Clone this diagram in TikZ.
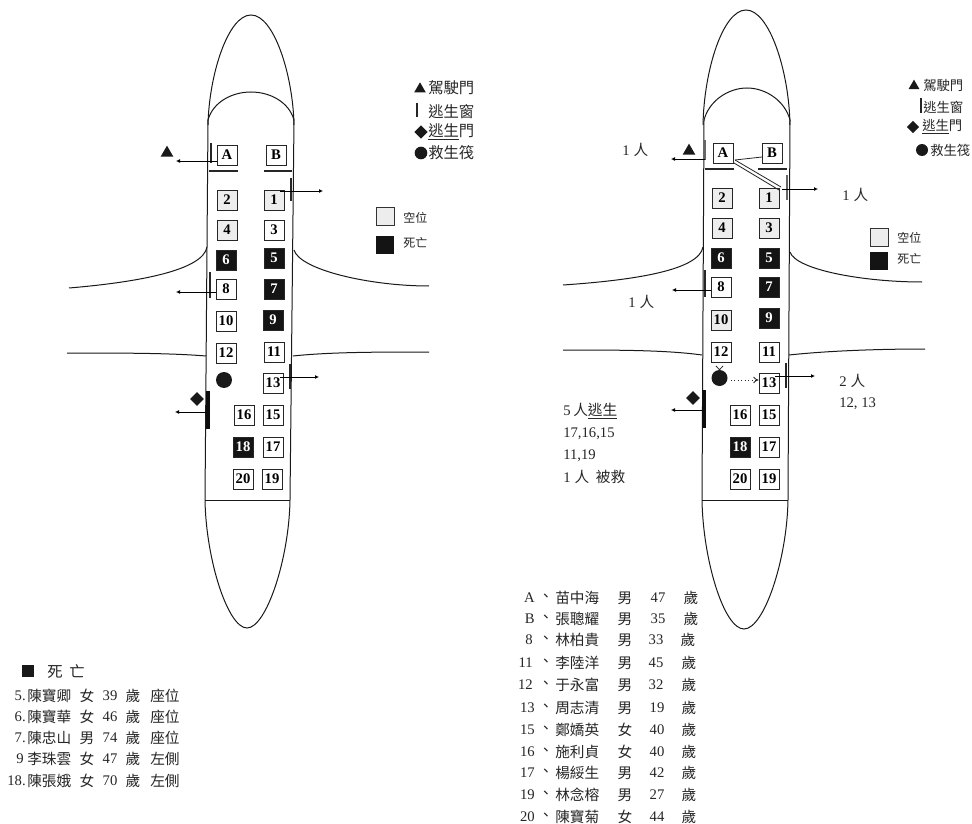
\documentclass[tikz,border=0pt]{standalone}
\usepackage{fontspec}
\setmainfont{Liberation Serif}
\newfontfamily\cjk{Noto Sans CJK TC}
\usetikzlibrary{arrows.meta,shapes.geometric}
\tikzset{
  x=0.75pt,y=-0.75pt,
  hull/.style={line width=0.75pt,black!90},
  seatbase/.style={draw=black!85,line width=0.7pt,minimum size=15pt,inner sep=0pt,font=\bfseries\fontsize{11}{11}\selectfont,anchor=center},
  seatw/.style={seatbase,fill=white},
  seatg/.style={seatbase,fill=black!7},
  seatk/.style={seatbase,fill=black!92,text=white},
  raft/.style={circle,fill=black!90,minimum size=12pt,inner sep=0pt},
  tri/.style={regular polygon,regular polygon sides=3,fill=black!90,minimum size=11pt,inner sep=0pt},
  dia/.style={diamond,fill=black!90,minimum size=10.5pt,inner sep=0pt},
  keybox/.style={minimum size=13.5pt,inner sep=0pt},
  exitarrow/.style={line width=0.7pt,-{Latex[length=3pt,width=3pt]}},
  winbar/.style={line width=1.3pt,black!85},
  doorbar/.style={line width=3pt,black!95},
  partline/.style={line width=0.9pt,black!85},
  txt/.style={inner sep=0pt,anchor=west,font=\cjk\fontsize{11}{12}\selectfont,text=black!85},
  txtc/.style={inner sep=0pt,anchor=center,font=\cjk\fontsize{11}{12}\selectfont,text=black!85},
  legl/.style={txt,font=\cjk\fontsize{11.5}{12}\selectfont},
  legr/.style={txt,font=\cjk\fontsize{10}{11}\selectfont},
  keytxt/.style={txt,font=\cjk\fontsize{9}{10}\selectfont},
  num/.style={inner sep=0pt,anchor=center,font=\fontsize{11}{12}\selectfont,text=black!85},
  numr/.style={inner sep=0pt,anchor=east,font=\fontsize{11}{12}\selectfont,text=black!85},
  note/.style={inner sep=0pt,anchor=west,font=\fontsize{11}{12}\selectfont,text=black!85},
}
\newcommand{\seat}[5]{\node[#4] (#1) at (#2,#3) {#5};}
\newcommand{\leftrow}[7]{%
  \node[numr] (lr#1) at (#2,#3) {#4};
  \node[txt] (ln#1) at (27,#3) {#5};
  \node[txtc] (ls#1) at (87,#3) {#6};
  \node[num] (la#1) at (110,#3) {#7};
  \node[txtc] (ly#1) at (133,#3) {歲};
}
\newcommand{\rightrow}[7]{%
  \node[numr] (rr#1) at (#2,#3) {#1};
  \node[txtc] (rd#1) at (546,#3) {、};
  \node[txt] (rn#1) at (555,#3) {#4};
  \node[txtc] (rs#1) at (625,#3) {#5};
  \node[num] (ra#1) at (#7,#3) {#6};
}
\begin{document}
\begin{tikzpicture}
\useasboundingbox[fill=white] (0,0) rectangle (972,824);
% ===== left plane =====
\draw[hull] (208,125) .. controls (209,75) and (228,15) .. (251,15) .. controls (274,15) and (293,75) .. (294,125);
\draw[hull] (208,120) .. controls (213,102) and (232,92) .. (251,92) .. controls (270,92) and (289,102) .. (294,120);
\draw[hull] (208,120) -- (205,500) .. controls (206,560) and (228,628) .. (247,628) .. controls (266,628) and (289,560) .. (290,500) -- (294,120);
\draw[hull] (205,500) -- (290,500);
\draw[hull] (207,247) .. controls (203,270) and (140,282) .. (69,288);
\draw[hull] (294,250) .. controls (300,270) and (370,286) .. (429,286);
\draw[hull] (67,353) .. controls (120,353) and (170,353) .. (206,356);
\draw[hull] (293,356) .. controls (330,352) and (380,352) .. (429,352);
\draw[partline] (209,171) -- (238,171);
\draw[partline] (264,171) -- (292,171);
\seat{la}{227}{155}{seatw}{A}
\seat{lb}{276}{155}{seatw}{B}
\seat{l2}{227}{200}{seatg}{2}
\seat{l1}{274}{200}{seatg}{1}
\seat{l4}{227}{230}{seatg}{4}
\seat{l3}{274}{230}{seatw}{3}
\seat{l6}{226}{260}{seatk}{6}
\seat{l5}{274}{258}{seatk}{5}
\seat{l8}{226}{289}{seatw}{8}
\seat{l7}{274}{289}{seatk}{7}
\seat{l10}{226}{321}{seatw}{10}
\seat{l9}{273}{320}{seatk}{9}
\seat{l12}{226}{353}{seatw}{12}
\seat{l11}{274}{352}{seatw}{11}
\node[raft] (lraft) at (224,380) {};
\seat{l13}{273}{383}{seatw}{13}
\seat{l16}{244}{415}{seatw}{16}
\seat{l15}{273}{415}{seatw}{15}
\seat{l18}{243}{447}{seatk}{18}
\seat{l17}{273}{447}{seatw}{17}
\seat{l20}{243}{479}{seatw}{20}
\seat{l19}{272}{479}{seatw}{19}
\draw[winbar] (211,143) -- (211,163);
\draw[winbar] (291,178) -- (291,201);
\draw[winbar] (210,272) -- (210,298);
\draw[winbar] (290,364) -- (290,389);
\draw[doorbar] (208,391) -- (208,429);
\node[tri] (ltri) at (167,153) {};
\node[dia] (ldia) at (197,399) {};
\coordinate (lxa) at (176,161);
\coordinate (lx1s) at (280,191);
\coordinate (lx1) at (323,191);
\coordinate (lx8) at (176,292);
\coordinate (lx13s) at (280,377);
\coordinate (lx13) at (319,377);
\coordinate (lxds) at (207,412);
\coordinate (lxd) at (175,412);
\draw[exitarrow] (la.west |- lxa) -- (lxa);
\draw[exitarrow] (lx1s) -- (lx1);
\draw[exitarrow] (l8.west |- lx8) -- (lx8);
\draw[exitarrow] (lx13s) -- (lx13);
\draw[exitarrow] (lxds) -- (lxd);
% left legends
\node[tri,minimum size=10pt] (lk1) at (420,89) {};
\node[legl] (lk1t) at (428,88) {駕駛門};
\draw[winbar,line width=1pt] (417,103) -- (417,117);
\node[legl] (lk2t) at (428,112) {逃生窗};
\node[dia,minimum size=10pt] (lk3) at (421,132) {};
\node[legl] (lk3t) at (428,132) {\underline{逃生}門};
\node[raft,minimum size=9.5pt] (lk4) at (421,153) {};
\node[legl] (lk4t) at (428,153) {救生筏};
\node[keybox,fill=black!7,draw=black!80,line width=0.6pt] (lk5) at (385.5,216.5) {};
\node[keybox,fill=black!92] (lk6) at (385,245) {};
\node[keytxt] (lk5t) at (403,218) {空位};
\node[keytxt] (lk6t) at (403,243) {死亡};
% left table
\node[keybox,minimum size=9.5pt,fill=black!90] (lsq) at (28,671) {};
\node[legl] (lsqt) at (47,672) {死\hspace{5pt}亡};
\leftrow{a}{26}{696}{5.}{陳寶卿}{女}{39}
\leftrow{b}{26}{717}{6.}{陳寶華}{女}{46}
\leftrow{c}{26}{738}{7.}{陳忠山}{男}{74}
\leftrow{d}{24}{759}{9}{李珠雲}{女}{47}
\leftrow{e}{26}{781}{18.}{陳張娥}{女}{70}
\node[txt] (lp1) at (150,696) {座位};
\node[txt] (lp2) at (150,717) {座位};
\node[txt] (lp3) at (150,738) {座位};
\node[txt] (lp4) at (150,759) {左側};
\node[txt] (lp5) at (150,781) {左側};
% ===== right plane =====
\draw[hull] (703,125) .. controls (704,70) and (723,10) .. (746,10) .. controls (769,10) and (789,70) .. (790,125);
\draw[hull] (704,120) .. controls (709,101) and (728,88) .. (747,88) .. controls (766,88) and (785,101) .. (790,120);
\draw[hull] (704,120) -- (702,500) .. controls (703,560) and (724,629) .. (744,629) .. controls (764,629) and (787,560) .. (788,500) -- (790,120);
\draw[hull] (702,500) -- (788,500);
\draw[hull] (703,247) .. controls (699,270) and (636,280) .. (563,285);
\draw[hull] (790,252) .. controls (796,270) and (864,282) .. (922,282);
\draw[hull] (563,350) .. controls (616,350) and (666,350) .. (702,355);
\draw[hull] (789,355) .. controls (826,351) and (876,349) .. (925,349);
\draw[partline] (705,169) -- (734,169);
\draw[partline] (758,169) -- (787,169);
\seat{ra}{723}{153}{seatw}{A}
\seat{rb}{772}{153}{seatw}{B}
\seat{r2}{722}{198}{seatg}{2}
\seat{r1}{769}{198}{seatg}{1}
\seat{r4}{722}{228}{seatg}{4}
\seat{r3}{769}{228}{seatg}{3}
\seat{r6}{721}{258}{seatk}{6}
\seat{r5}{769}{258}{seatk}{5}
\seat{r8}{721}{287}{seatw}{8}
\seat{r7}{769}{287}{seatk}{7}
\seat{r10}{721}{320}{seatg}{10}
\seat{r9}{769}{318}{seatk}{9}
\seat{r12}{721}{352}{seatw}{12}
\seat{r11}{769}{352}{seatw}{11}
\node[raft] (rraft) at (719.5,378) {};
\seat{r13}{769}{383}{seatw}{13}
\seat{r16}{740}{415}{seatw}{16}
\seat{r15}{769}{415}{seatw}{15}
\seat{r18}{740}{447}{seatk}{18}
\seat{r17}{769}{447}{seatw}{17}
\seat{r20}{740}{479}{seatw}{20}
\seat{r19}{769}{479}{seatw}{19}
\draw[winbar,black!60] (705,140) -- (705,160);
\draw[winbar,black!60] (787,175) -- (787,200);
\draw[winbar] (705,270) -- (705,297);
\draw[winbar] (786,363) -- (786,388);
\draw[doorbar] (704,390) -- (704,428);
\node[tri] (rtri) at (689,151) {};
\node[dia] (rdia) at (693,398) {};
\coordinate (rxa) at (671,159);
\coordinate (rxas) at (705,159);
\coordinate (rx1s) at (782,189);
\coordinate (rx1) at (818,189);
\coordinate (rjoin) at (735,160);
\coordinate (rjoinb) at (734,163);
\coordinate (rhit) at (781,187);
\coordinate (rhitb) at (779,190);
\coordinate (rbl) at (762,157);
\coordinate (rx8) at (672,290);
\coordinate (rx13s) at (775,376);
\coordinate (rx13) at (815,376);
\coordinate (rxds) at (703,410);
\coordinate (rxd) at (671,410);
\draw[exitarrow] (rxas) -- (rxa);
\draw[exitarrow] (rx1s) -- (rx1);
\draw[exitarrow] (r8.west |- rx8) -- (rx8);
\draw[exitarrow] (rx13s) -- (rx13);
\draw[exitarrow] (rxds) -- (rxd);
\draw[line width=0.6pt,black!85] (rbl) -- (rjoin);
\draw[line width=0.6pt,black!85] (rjoin) -- (rhit);
\draw[line width=0.6pt,black!85] (rjoinb) -- (rhitb);
\draw[line width=0.6pt,black!85,dotted,-{To[length=4pt,width=5pt]}] (rraft.east |- 0,380) ++(3,0) -- (r13.west |- 0,380);
\coordinate (rv1) at (716,366);
\coordinate (rv2) at (723,366);
\draw[line width=0.6pt,black!85] (rv1) -- (rraft.north) -- (rv2);
% right legends
\node[tri,minimum size=9.5pt] (rk1) at (914,86) {};
\node[legr] (rk1t) at (923,85) {駕駛門};
\draw[winbar,line width=1pt] (921,98) -- (921,113);
\node[legr] (rk2t) at (923,107) {逃生窗};
\node[dia,minimum size=9.5pt] (rk3) at (913,127) {};
\node[legr] (rk3t) at (922,127) {\underline{逃生}門};
\node[raft,minimum size=9pt] (rk4) at (922,150) {};
\node[legr] (rk4t) at (930,150) {救生筏};
\node[keybox,fill=black!7,draw=black!80,line width=0.6pt] (rk5) at (879,237) {};
\node[keybox,fill=black!92] (rk6) at (879,261) {};
\node[keytxt] (rk5t) at (897,238) {空位};
\node[keytxt] (rk6t) at (897,259) {死亡};
% right notes
\node[note] (n1) at (622,150) {1\hspace{3pt}{\cjk 人}};
\node[note] (n2) at (842,195) {1\hspace{3pt}{\cjk 人}};
\node[note] (n3) at (628,302) {1\hspace{3pt}{\cjk 人}};
\node[note] (n4) at (839,381) {2\hspace{3pt}{\cjk 人}};
\node[note] (n5) at (839,404) {12, 13};
\node[note] (n6) at (563,411) {5\hspace{2pt}{\cjk 人\underline{逃生}}};
\node[note] (n7) at (563,434) {17,16,15};
\node[note] (n8) at (563,456) {11,19};
\node[note] (n9) at (563,477) {1\hspace{3pt}{\cjk 人}\hspace{5pt}{\cjk 被救}};
% right table
\rightrow{A}{535}{598}{苗中海}{男}{47}{658}
\rightrow{B}{535}{619}{張聰耀}{男}{35}{658}
\rightrow{8}{533}{640}{林柏貴}{男}{33}{656}
\rightrow{11}{533}{663}{李陸洋}{男}{45}{656}
\rightrow{12}{533}{685}{于永富}{男}{32}{656}
\rightrow{13}{535}{708}{周志清}{男}{19}{657}
\rightrow{15}{535}{730}{鄭嬌英}{女}{40}{657}
\rightrow{16}{535}{752}{施利貞}{女}{40}{657}
\rightrow{17}{535}{773}{楊綏生}{男}{42}{657}
\rightrow{19}{535}{795}{林念榕}{男}{27}{657}
\rightrow{20}{535}{817}{陳寶菊}{女}{44}{657}
\node[txtc] (ry1) at (691,598) {歲};
\node[txtc] (ry2) at (691,619) {歲};
\node[txtc] (ry3) at (688,640) {歲};
\node[txtc] (ry4) at (689,663) {歲};
\node[txtc] (ry5) at (689,685) {歲};
\node[txtc] (ry6) at (689,708) {歲};
\node[txtc] (ry7) at (689,730) {歲};
\node[txtc] (ry8) at (689,752) {歲};
\node[txtc] (ry9) at (689,773) {歲};
\node[txtc] (ry10) at (689,795) {歲};
\node[txtc] (ry11) at (689,817) {歲};
\end{tikzpicture}
\end{document}
